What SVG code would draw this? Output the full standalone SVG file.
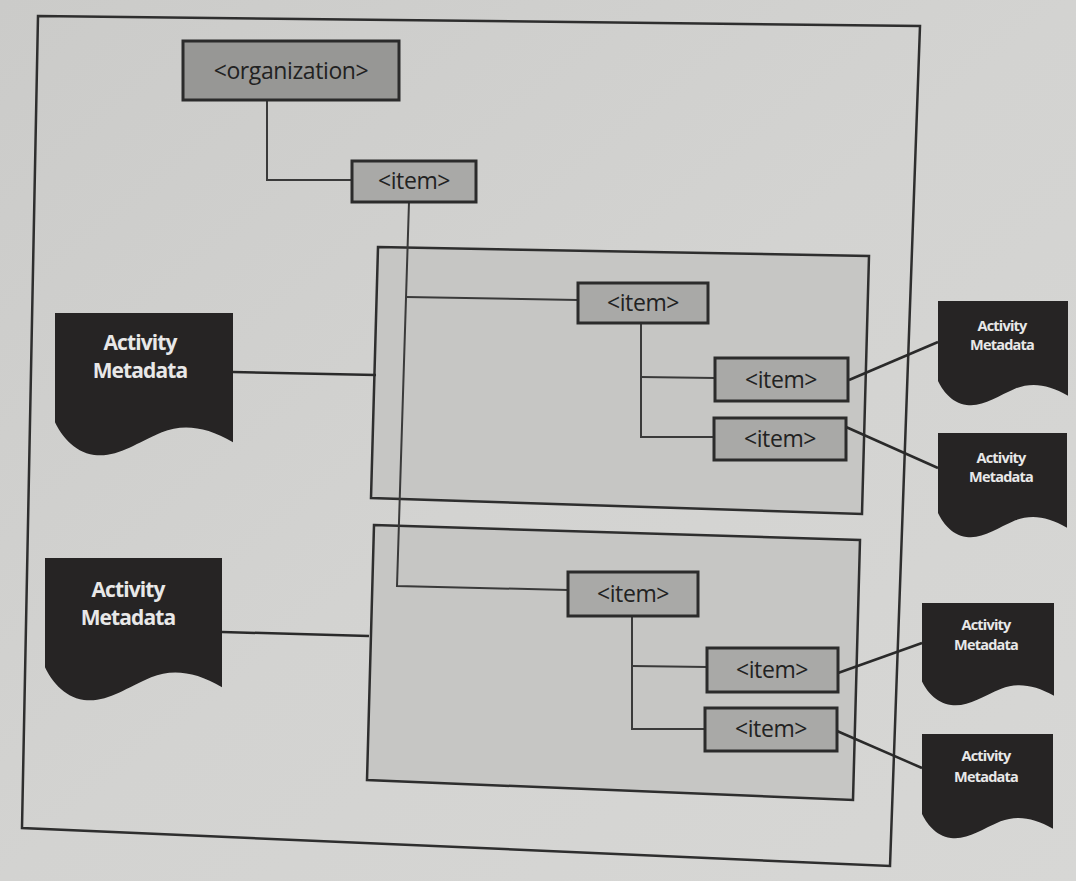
<svg xmlns="http://www.w3.org/2000/svg" width="1076" height="881" viewBox="0 0 1076 881">
<defs>
<linearGradient id="bg" x1="0" y1="0" x2="1" y2="1">
<stop offset="0" stop-color="#cbcbc9"/>
<stop offset="0.5" stop-color="#d3d3d1"/>
<stop offset="1" stop-color="#d7d7d5"/>
</linearGradient>
<path id="doc" d="M0,0 H1 V0.91 C0.85,0.80 0.72,0.78 0.6,0.84 C0.45,0.92 0.35,1.02 0.22,1.0 C0.1,0.98 0.03,0.85 0,0.77 Z"/>
</defs>
<style>
.frame{fill:none;stroke:#2e2e2e;stroke-width:2.5}
.box{fill:#c6c6c4;stroke:#2e2e2e;stroke-width:2.5}
.node{fill:#a9a9a7;stroke:#2b2b2b;stroke-width:3}
.org{fill:#979795;stroke:#2b2b2b;stroke-width:3}
.lbl{font-family:"Open Sans","DejaVu Sans",sans-serif;font-size:23px;fill:#222;text-anchor:middle;letter-spacing:-0.4px}
.meta{fill:#262424}
.mt{font-family:"Open Sans","DejaVu Sans",sans-serif;font-weight:700;fill:#e8e8e8;text-anchor:middle;letter-spacing:-0.9px}
.big{font-size:21px}
.sm{font-size:14.5px;letter-spacing:-0.8px}
.ln{fill:none;stroke:#3a3a3a;stroke-width:2}
.lnd{fill:none;stroke:#2a2a2a;stroke-width:2.5}
</style>
<rect width="1076" height="881" fill="url(#bg)"/>
<polygon class="frame" points="38,16 920,26 890,866 22,828"/>
<g id="container1"><polygon class="box" points="378,247 869,256 862,514 371,498"/></g>
<g id="container2"><polygon class="box" points="374,525 860,540 853,800 367,780"/></g>

<g id="connectors">
<polyline class="ln" points="267,100 267,180 352,180"/>
<polyline class="ln" points="409,202 397,586 568,590"/>
<line class="ln" x1="406" y1="297" x2="578" y2="300"/>
<polyline class="ln" points="641,323 641,437 714,437"/>
<line class="ln" x1="641" y1="377" x2="715" y2="378"/>
<polyline class="ln" points="632,617 632,729 705,729"/>
<line class="ln" x1="632" y1="666" x2="707" y2="667"/>
<line class="lnd" x1="233" y1="372" x2="376" y2="375"/>
<line class="lnd" x1="222" y1="632" x2="369" y2="636"/>
<line class="lnd" x1="849" y1="380" x2="938" y2="342"/>
<line class="lnd" x1="846" y1="427" x2="938" y2="468"/>
<line class="lnd" x1="838" y1="673" x2="922" y2="643"/>
<line class="lnd" x1="837" y1="731" x2="922" y2="768"/>
</g>

<g id="organization"><rect class="org" x="183" y="41" width="216" height="59"/><text class="lbl" x="291" y="79">&lt;organization&gt;</text></g>
<g id="item1"><rect class="node" x="352" y="161" width="124" height="41"/><text class="lbl" x="414" y="189">&lt;item&gt;</text></g>
<g id="item2"><rect class="node" x="578" y="283" width="130" height="40"/><text class="lbl" x="643" y="311">&lt;item&gt;</text></g>
<g id="item3"><rect class="node" x="715" y="358" width="133" height="43"/><text class="lbl" x="781" y="388">&lt;item&gt;</text></g>
<g id="item4"><rect class="node" x="714" y="418" width="132" height="42"/><text class="lbl" x="780" y="447">&lt;item&gt;</text></g>
<g id="item5"><rect class="node" x="568" y="572" width="130" height="44"/><text class="lbl" x="633" y="602">&lt;item&gt;</text></g>
<g id="item6"><rect class="node" x="707" y="648" width="131" height="44"/><text class="lbl" x="772" y="678">&lt;item&gt;</text></g>
<g id="item7"><rect class="node" x="705" y="708" width="132" height="43"/><text class="lbl" x="771" y="737">&lt;item&gt;</text></g>

<g id="meta-left1"><use href="#doc" class="meta" transform="translate(55,313) scale(178,142)"/><text class="mt big" x="140" y="350">Activity</text><text class="mt big" x="140" y="378">Metadata</text></g>
<g id="meta-left2"><use href="#doc" class="meta" transform="translate(45,558) scale(177,142)"/><text class="mt big" x="128" y="597">Activity</text><text class="mt big" x="128" y="625">Metadata</text></g>
<g id="meta-right1"><use href="#doc" class="meta" transform="translate(938,301) scale(130,104)"/><text class="mt sm" x="1002" y="331">Activity</text><text class="mt sm" x="1002" y="350">Metadata</text></g>
<g id="meta-right2"><use href="#doc" class="meta" transform="translate(938,433) scale(129,104)"/><text class="mt sm" x="1001" y="463">Activity</text><text class="mt sm" x="1001" y="482">Metadata</text></g>
<g id="meta-right3"><use href="#doc" class="meta" transform="translate(922,603) scale(132,102)"/><text class="mt sm" x="986" y="630">Activity</text><text class="mt sm" x="986" y="650">Metadata</text></g>
<g id="meta-right4"><use href="#doc" class="meta" transform="translate(922,734) scale(131,104)"/><text class="mt sm" x="986" y="761">Activity</text><text class="mt sm" x="986" y="782">Metadata</text></g>
</svg>
